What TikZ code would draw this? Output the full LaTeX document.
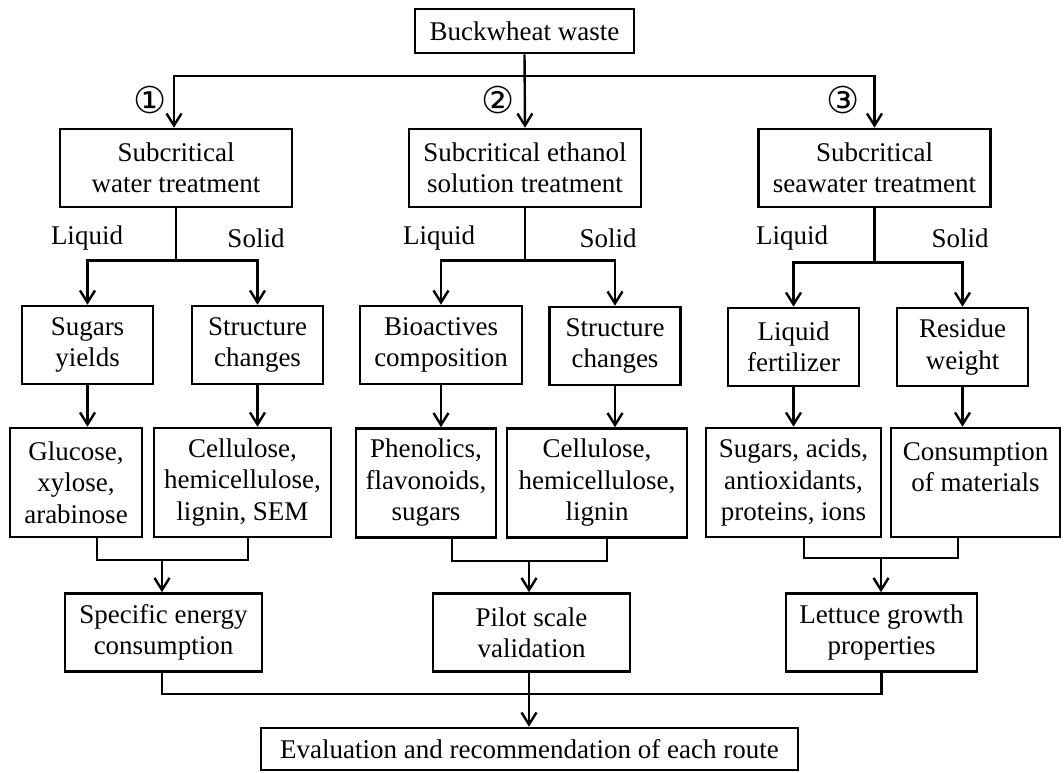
\documentclass[tikz,border=0pt]{standalone}
\usepackage{fontspec}
\setmainfont{Liberation Serif}
\newfontfamily\circfont{DejaVu Sans}
\usetikzlibrary{arrows.meta}

\begin{document}
\begin{tikzpicture}[
  x=1pt, y=-1pt,
  every node/.style={font=\fontsize{27}{31.5}\selectfont},
  box/.style={draw, line width=2.6pt, inner sep=0pt, align=center, minimum height=78pt},
  lbl/.style={inner sep=0pt},
  num/.style={inner sep=0pt, font=\circfont\fontsize{37}{37}\selectfont},
  arr/.style={-{Straight Barb[length=12pt,width=15pt]}, line width=2.4pt},
  con/.style={line width=2.4pt}
]
\useasboundingbox (0,0) rectangle (1064,772);

\node[box, minimum width=219pt, minimum height=44pt] (waste) at (524.5,31) {Buckwheat waste};

\node[box, minimum width=232pt] (water) at (176,168) {Subcritical\\water treatment};
\node[box, minimum width=232pt] (ethanol) at (525,168) {Subcritical ethanol\\solution treatment};
\node[box, minimum width=232pt] (seawater) at (874.5,168) {Subcritical\\seawater treatment};

\node[num] (n1) at (150,100) {①};
\node[num] (n2) at (498,100) {②};
\node[num] (n3) at (843,100) {③};

\node[lbl] (liq1) at (87,238) {Liquid};
\node[lbl] (sol1) at (256,238) {Solid};
\node[lbl] (liq2) at (439,238) {Liquid};
\node[lbl] (sol2) at (608,238) {Solid};
\node[lbl] (liq3) at (792,238) {Liquid};
\node[lbl] (sol3) at (960,238) {Solid};

\node[box, minimum width=131pt] (sugars) at (87.5,345) {Sugars\\yields};
\node[box, minimum width=131pt] (struct1) at (257.5,345) {Structure\\changes};
\node[box, minimum width=162pt] (bioact) at (441,345) {Bioactives\\composition};
\node[box, minimum width=131pt] (struct2) at (615,346) {Structure\\changes};
\node[box, minimum width=131pt] (fert) at (793.5,347) {Liquid\\fertilizer};
\node[box, minimum width=131pt] (residue) at (962.5,347) {Residue\\weight};

\node[box, minimum width=132pt, minimum height=109pt] (glucose) at (76,482.5) {Glucose,\\xylose,\\arabinose};
\node[box, minimum width=177pt, minimum height=109pt] (cell1) at (242.5,482.5) {Cellulose,\\hemicellulose,\\lignin, SEM};
\node[box, minimum width=140pt, minimum height=109pt] (phenol) at (426,483) {Phenolics,\\flavonoids,\\sugars};
\node[box, minimum width=180pt, minimum height=109pt] (cell2) at (597,483) {Cellulose,\\hemicellulose,\\lignin};
\node[box, minimum width=175pt, minimum height=109pt] (sugacid) at (793.5,482.5) {Sugars, acids,\\antioxidants,\\proteins, ions};
\node[box, minimum width=169pt, minimum height=109pt, text depth=31pt] (consum) at (975.5,482.5) {Consumption\\of materials};

\node[box, minimum width=197pt] (energy) at (163.5,632.5) {Specific energy\\consumption};
\node[box, minimum width=197pt] (pilot) at (531.5,632.5) {Pilot scale\\validation};
\node[box, minimum width=191pt] (lettuce) at (881.5,632.5) {Lettuce growth\\properties};

\node[box, minimum width=537pt, minimum height=42pt] (eval) at (529.5,749) {Evaluation and recommendation of each route};

% routes
\coordinate (split) at (524,76);
\draw[arr] (waste.south) -- (ethanol.north);
\draw[arr] (split) -| (174,126) -- (water.north -| 174,0);
\draw[arr] (split) -| (seawater.north);

% liquid / solid
\draw[arr] (water.south) -- ++(0,52) -| (sugars.north);
\draw[arr] (water.south) ++(0,52) -| (struct1.north);
\draw[arr] (ethanol.south) -- ++(0,52) -| (bioact.north);
\draw[arr] (ethanol.south) ++(0,52) -| (struct2.north);
\draw[arr] (seawater.south) -- ++(0,54) -| (fert.north);
\draw[arr] (seawater.south) ++(0,54) -| (residue.north);

\draw[arr] (sugars.south) -- (sugars.south |- glucose.north);
\draw[arr] (struct1.south) -- (struct1.south |- cell1.north);
\draw[arr] (bioact.south) -- (bioact.south |- phenol.north);
\draw[arr] (struct2.south) -- (struct2.south |- cell2.north);
\draw[arr] (fert.south) -- (fert.south |- sugacid.north);
\draw[arr] (residue.south) -- (residue.south |- consum.north);

% merge
\coordinate (m1) at (162,560);
\coordinate (m2) at (529,561);
\coordinate (m3) at (881,558);
\draw[con] ([xshift=21pt]glucose.south) |- (m1) -| ([xshift=5.5pt]cell1.south);
\draw[con] ([xshift=26pt]phenol.south) |- (m2) -| ([xshift=10pt]cell2.south);
\draw[con] ([xshift=10.5pt]sugacid.south) |- (m3) -| ([xshift=-17.5pt]consum.south);
\draw[arr] (m1) -- (m1 |- energy.north);
\draw[arr] (m2) -- (m2 |- pilot.north);
\draw[arr] (m3) -- (m3 |- lettuce.north);

\draw[con] ([xshift=-1.5pt]energy.south) -- ++(0,21) -| (lettuce.south);
\draw[arr] ([xshift=-2.5pt]pilot.south) -- ([xshift=-2.5pt]pilot.south |- eval.north);
\end{tikzpicture}
\end{document}
